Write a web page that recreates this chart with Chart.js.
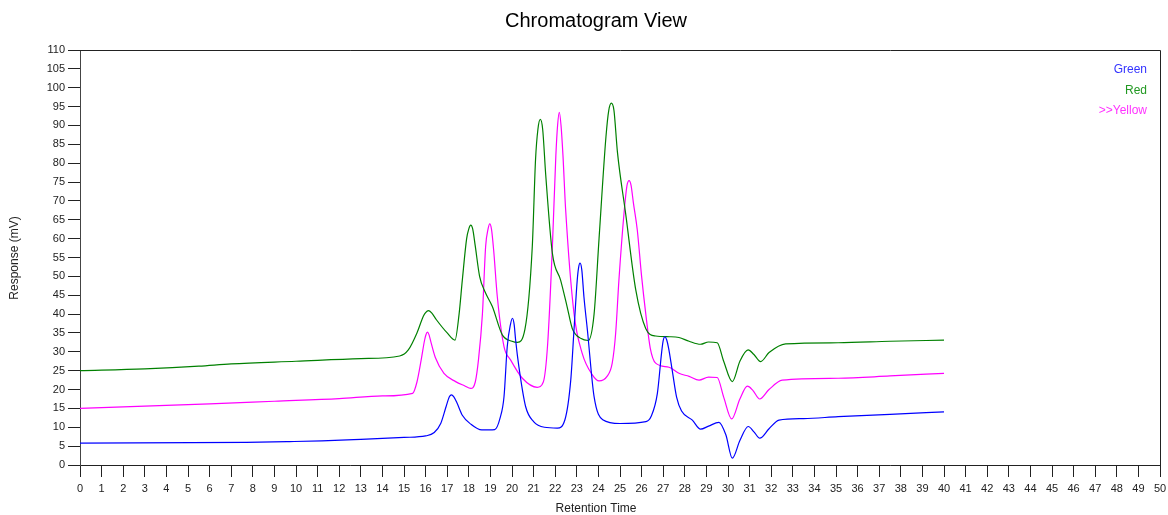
<!DOCTYPE html>
<html lang="en">
<head>
    <meta charset="UTF-8">
    <title>Chromatogram View</title>
    <script src="https://cdn.jsdelivr.net/npm/chart.js"></script>
    <style>
        body, html {
            margin: 0;
            padding: 0;
            background-color: #ffffff;
        }

        .chart-container {
            width: 1168px;
            height: 515px;
            position: relative;
        }
    </style>
</head>
<body>
    <div class="chart-container">
        <canvas id="chromChart"></canvas>
    </div>

    <script>
        // Series labels as shown in the legend
        const seriesLabels = ['Green', 'Red', '>>Yellow'];

        // [retention time, response mV]
        const greenSeries = [
            [0, 5.8], [7.7, 6.0], [9.7, 6.2], [11.2, 6.4], [13, 6.8], [15, 7.3], [16.0, 7.7],
            [16.4, 8.6], [16.7, 11], [16.95, 15.5], [17.1, 18.1], [17.2, 18.6], [17.3, 18.1],
            [17.45, 16.5], [17.7, 13.2], [18.1, 10.8], [18.6, 9.3], [19.2, 9.4], [19.45, 12.5],
            [19.63, 18.1], [19.78, 31.4], [19.93, 37.3], [20.02, 38.9], [20.1, 37.2], [20.17, 33],
            [20.32, 26], [20.63, 15.5], [21.0, 11.5], [21.5, 10], [22.1, 9.8], [22.45, 12],
            [22.72, 22.5], [22.87, 35.8], [23.02, 49], [23.08, 52.2], [23.15, 53.5], [23.23, 51.8],
            [23.33, 44.6], [23.49, 35.8], [23.8, 18.1], [24.2, 12], [25.0, 11], [26.2, 11.5],
            [26.45, 13], [26.73, 19], [26.93, 30], [27.0, 33], [27.08, 34], [27.16, 33.2],
            [27.25, 31], [27.42, 25], [27.62, 18], [27.85, 14.3], [28.35, 11.9], [28.73, 9.5],
            [29.1, 10.3], [29.58, 11.3], [29.9, 8], [30.2, 1.8], [30.55, 6.5], [30.94, 10.2],
            [31.2, 8.8], [31.47, 7.1], [31.9, 9.6], [32.36, 11.9], [33.5, 12.3], [35.1, 12.8],
            [37.5, 13.4], [40, 14.1]
        ];

        const redSeries = [
            [0, 25], [3, 25.5], [5.5, 26.2], [7, 26.8], [10, 27.5], [13, 28.2], [14.8, 28.9],
            [15.2, 30.5], [15.6, 35], [15.9, 39.5], [16.0, 40.4], [16.13, 40.9], [16.28, 40.3],
            [16.5, 38.5], [17.0, 35], [17.36, 33.1], [17.55, 40], [17.7, 49], [17.9, 60],
            [18.0, 62.6], [18.09, 63.6], [18.18, 62.6], [18.3, 58], [18.5, 50], [18.75, 45.9],
            [19.09, 42], [19.55, 34.5], [20.0, 32.8], [20.25, 32.5], [20.6, 36], [20.94, 58],
            [21.09, 81], [21.2, 89], [21.31, 91.6], [21.42, 89], [21.56, 77], [21.87, 56.1],
            [22.25, 49], [22.55, 42], [22.79, 36.2], [23.2, 33.5], [23.53, 33], [23.8, 40],
            [24.03, 60], [24.35, 87], [24.48, 94], [24.6, 95.9], [24.72, 94], [24.88, 83],
            [25.26, 66.7], [25.73, 46.4], [26.19, 36.2], [26.65, 34.2], [27.3, 34], [27.73, 33.8],
            [28.2, 32.8], [28.73, 32], [29.1, 32.6], [29.5, 32.4], [29.8, 27.5], [30.2, 22.1],
            [30.55, 27.5], [30.93, 30.5], [31.2, 29.3], [31.51, 27.4], [31.9, 29.8], [32.67, 32.1],
            [35.1, 32.4], [37.5, 32.8], [40, 33.1]
        ];

        const yellowSeries = [
            [0, 15], [3, 15.6], [6, 16.2], [9, 16.9], [12, 17.6], [14, 18.3], [15.4, 19],
            [15.6, 22], [15.8, 28], [15.95, 33], [16.02, 34.6], [16.08, 35.2], [16.16, 34.5],
            [16.25, 32.5], [16.45, 28.5], [16.85, 24.3], [17.39, 22.1], [17.8, 21], [18.09, 20.3],
            [18.3, 22], [18.45, 28], [18.63, 40], [18.78, 58], [18.89, 62.5], [18.97, 63.9],
            [19.05, 62.5], [19.15, 57], [19.32, 44.6], [19.63, 31.4], [19.94, 27.8], [20.48, 23],
            [21.17, 20.6], [21.45, 22], [21.65, 32], [21.87, 57.9], [22.03, 82], [22.11, 90],
            [22.19, 93.5], [22.27, 90], [22.36, 82], [22.48, 68], [22.87, 40.2], [23.25, 29.6],
            [23.72, 23.9], [24.03, 22.3], [24.4, 23.5], [24.64, 27], [24.8, 35], [24.95, 49],
            [25.19, 67], [25.32, 74], [25.42, 75.4], [25.51, 74.2], [25.62, 69.5], [25.8, 62.3],
            [26.0, 50], [26.19, 40.2], [26.4, 31], [26.65, 27], [27.27, 25.9], [27.73, 24.3],
            [28.2, 23.5], [28.66, 22.5], [29.1, 23.3], [29.5, 23.2], [29.8, 18], [30.17, 12.2],
            [30.55, 17.5], [30.9, 20.9], [31.15, 19.8], [31.47, 17.5], [31.9, 20], [32.51, 22.5],
            [35.1, 23], [37.5, 23.6], [40, 24.3]
        ];

        const seriesColors = ['#0000ff', '#008000', '#ff00ff'];
        const legendColors = ['#3333ff', '#229922', '#ff33ff'];
        const fontFamily = 'Arial, "Liberation Sans", sans-serif';

        function toPoints(series) {
            return series.map(p => ({ x: p[0], y: p[1] }));
        }

        // Titles, legend text and the closing box drawn on the canvas
        const decorations = {
            id: 'decorations',
            afterDraw(chart) {
                const ctx = chart.ctx;
                const area = chart.chartArea;
                ctx.save();

                ctx.strokeStyle = '#222';
                ctx.lineWidth = 1;
                ctx.beginPath();
                ctx.moveTo(area.left, area.top + 0.5);
                ctx.lineTo(area.right + 0.5, area.top + 0.5);
                ctx.lineTo(area.right + 0.5, area.bottom);
                ctx.stroke();

                ctx.fillStyle = '#000';
                ctx.textAlign = 'center';
                ctx.textBaseline = 'middle';
                ctx.font = '20px ' + fontFamily;
                ctx.fillText('Chromatogram View', 596, 21);

                ctx.fillStyle = '#222';
                ctx.font = '12px ' + fontFamily;
                ctx.fillText('Retention Time', 596, 509);

                ctx.save();
                ctx.translate(15, 258);
                ctx.rotate(-Math.PI / 2);
                ctx.fillText('Response (mV)', 0, 0);
                ctx.restore();

                ctx.textAlign = 'right';
                chart.data.datasets.forEach((ds, i) => {
                    ctx.fillStyle = legendColors[i];
                    ctx.fillText(ds.label, 1147, 70 + i * 20.5);
                });

                ctx.restore();
            }
        };

        new Chart(document.getElementById('chromChart').getContext('2d'), {
            type: 'line',
            data: {
                datasets: [greenSeries, redSeries, yellowSeries].map((s, i) => ({
                    label: seriesLabels[i],
                    data: toPoints(s),
                    borderColor: seriesColors[i],
                    borderWidth: 1.2,
                    pointRadius: 0,
                    fill: false,
                    cubicInterpolationMode: 'monotone'
                }))
            },
            options: {
                responsive: true,
                maintainAspectRatio: false,
                animation: false,
                layout: {
                    padding: { top: 50, right: 8, left: 0, bottom: 0 }
                },
                plugins: {
                    legend: { display: false },
                    title: { display: false },
                    tooltip: { enabled: false }
                },
                scales: {
                    x: {
                        type: 'linear',
                        min: 0,
                        max: 50,
                        afterFit: scale => {
                            scale.height = 50;
                            scale.paddingLeft = 0;
                            scale.paddingRight = 0;
                        },
                        grid: {
                            drawOnChartArea: false,
                            drawTicks: true,
                            tickLength: 12,
                            tickColor: '#222'
                        },
                        border: { color: '#222' },
                        ticks: {
                            stepSize: 1,
                            autoSkip: false,
                            maxRotation: 0,
                            padding: 5,
                            color: '#222',
                            font: { family: fontFamily, size: 11 }
                        }
                    },
                    y: {
                        min: 0,
                        max: 110,
                        afterFit: scale => {
                            scale.width = 80;
                            scale.paddingTop = 0;
                            scale.paddingBottom = 0;
                        },
                        grid: {
                            drawOnChartArea: false,
                            drawTicks: true,
                            tickLength: 12,
                            tickColor: '#222'
                        },
                        border: { color: '#444' },
                        ticks: {
                            stepSize: 5,
                            padding: 3,
                            color: '#222',
                            font: { family: fontFamily, size: 11 }
                        }
                    }
                }
            },
            plugins: [decorations]
        });
    </script>
</body>
</html>
